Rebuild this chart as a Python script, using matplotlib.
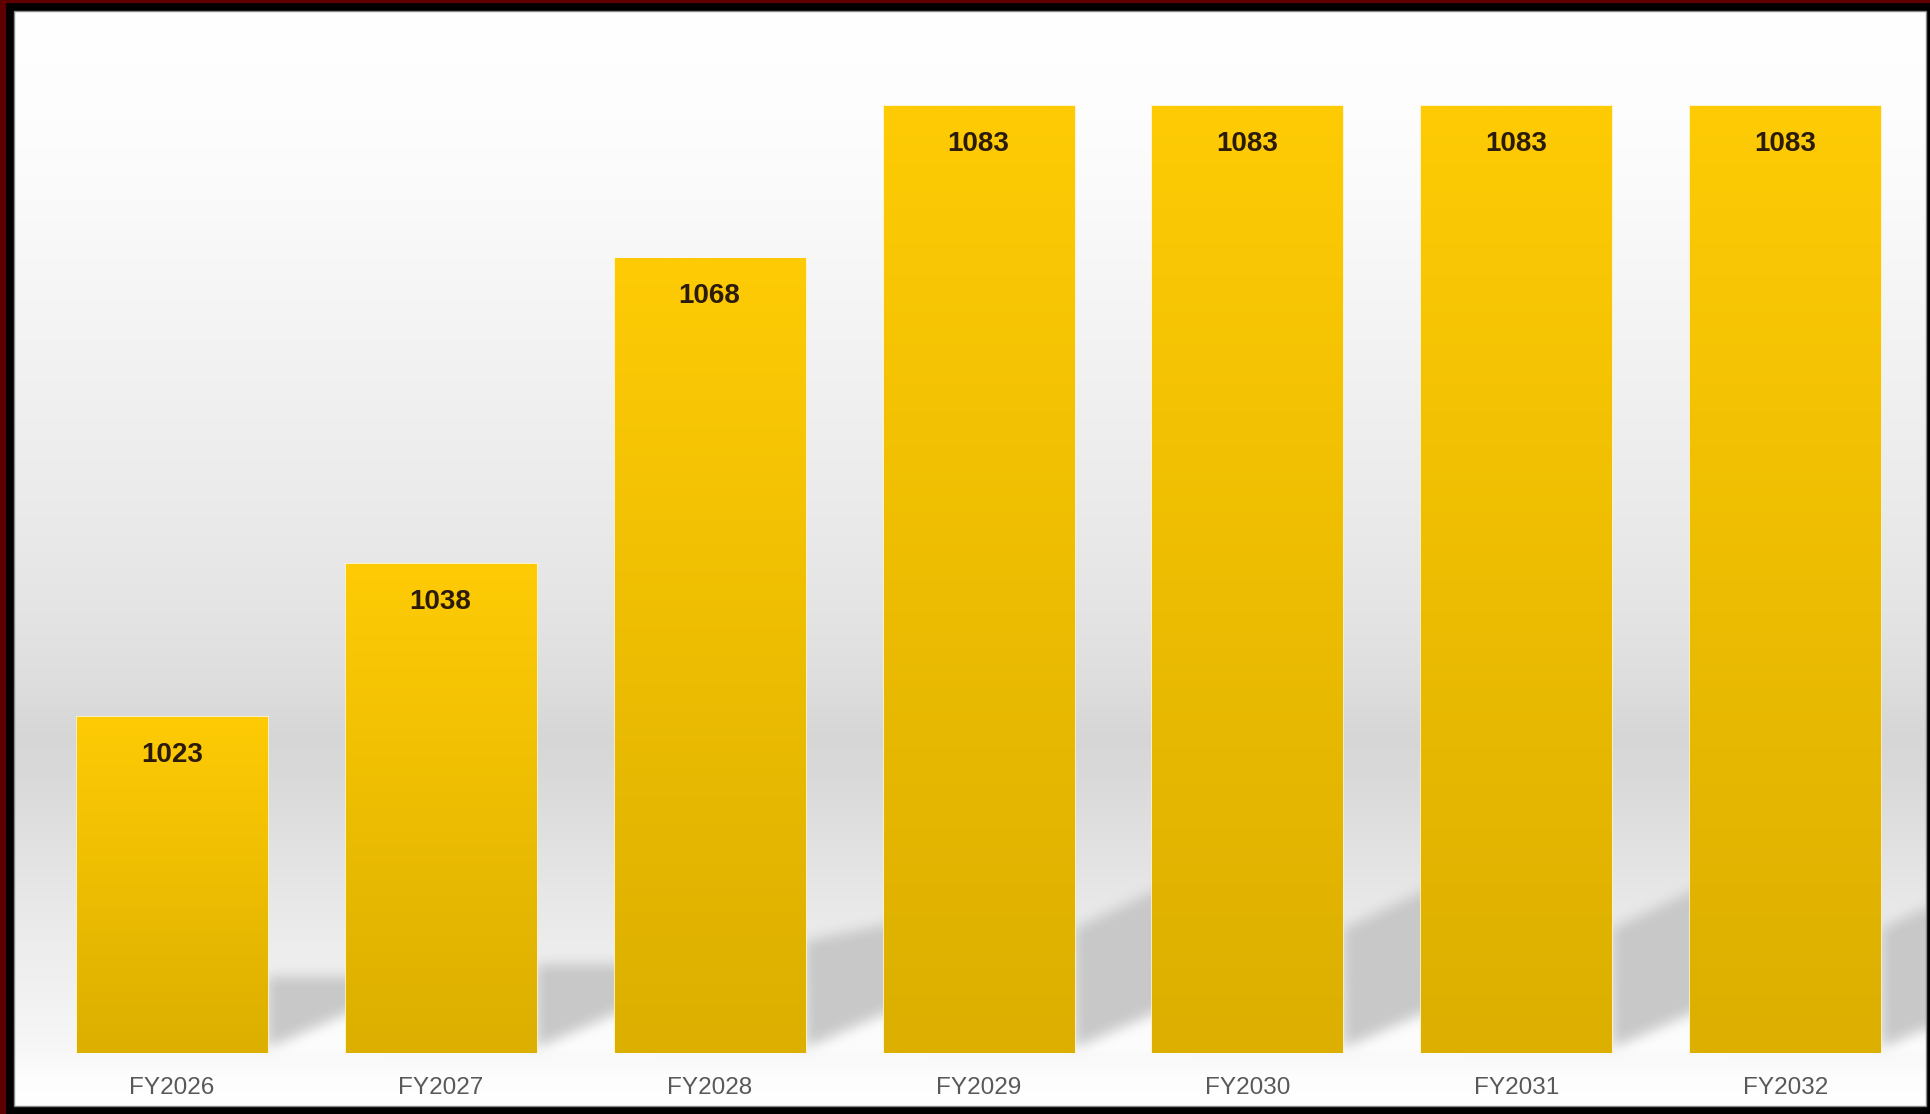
import numpy as np
import matplotlib
matplotlib.use("Agg")
import matplotlib.pyplot as plt
from matplotlib.patches import Rectangle

# === Data ===
years = ["FY2026", "FY2027", "FY2028", "FY2029", "FY2030", "FY2031", "FY2032"]
values = [1023, 1038, 1068, 1083, 1083, 1083, 1083]
BASE = 990

# === Figure geometry (pixels) ===
W, H = 1931, 1114
X0, Y0, X1, Y1 = 14, 11, 1926, 1106   # inner white panel
BASE_PX = 1053                        # bar base row
PX_PER_UNIT = 10.18
BAR_W = 0.7066

fig = plt.figure(figsize=(W / 100, H / 100), dpi=100, facecolor="black")

# frame details
fig.patches.append(Rectangle((0, 0), 5 / W, 1, transform=fig.transFigure,
                             color="#5e0000", zorder=0))
fig.patches.append(Rectangle((0, 1 - 2 / H), 1, 2 / H, transform=fig.transFigure,
                             color="#5e0000", zorder=0))

ax_bg = fig.add_axes([X0 / W, 1 - Y1 / H, (X1 - X0) / W, (Y1 - Y0) / H])
ax_bg.axis("off")

ax = fig.add_axes([X0 / W, 1 - BASE_PX / H, (X1 - X0) / W, (BASE_PX - Y0) / H])
ax.patch.set_visible(False)
ax.set_xlim(-0.5865, 6.523)
ax.set_ylim(BASE, BASE + (BASE_PX - Y0) / PX_PER_UNIT)

# === Background gradient ===
Wp, Hp = X1 - X0, Y1 - Y0
stops_y = np.array([11, 120, 200, 300, 400, 500, 600, 680, 738, 790, 900, 1000, 1053, 1075, 1106]) - Y0
stops_v = np.array([255, 253, 250, 245, 240, 235, 229, 222, 214, 219, 232, 242, 248, 253, 255]) / 255
col_v = np.interp(np.arange(Hp), stops_y, stops_v)
bg = np.repeat(col_v[:, None], Wp, axis=1)

# === Bar shadows (computed from bar positions) ===
rows = np.arange(Hp)[:, None].astype(float)
cols = np.arange(Wp)[None, :].astype(float)
mask = np.zeros((Hp, Wp))
light = np.zeros((Hp, Wp))
for i, v in enumerate(values):
    xd, yd = ax.transData.transform((i + BAR_W / 2, BASE))
    _, ytop = ax.transData.transform((i, v))
    hpx = ytop - yd
    c0 = xd - X0
    r0 = (H - yd) - Y0
    f = np.clip((hpx - 334) / 612, 0, 1)
    d_top = 77 + 48 * f
    slope = 0.47 * f ** 3
    t = cols - c0
    bottom = r0 - 6 - 0.44 * t
    top = r0 - d_top - slope * t
    fade = np.clip((180 - t) / 80, 0, 1)
    m = ((rows <= bottom) & (rows >= top) & (t >= 0)) * fade
    mask = np.maximum(mask, m)
    lt = ((rows > bottom) & (rows <= r0) & (t >= 0) & (t <= 120)) * 1.0
    light = np.maximum(light, lt)


def box_blur(a, r):
    k = 2 * r + 1
    p = np.pad(a, r, mode="edge")
    c = np.cumsum(p, axis=0)
    c = np.vstack([np.zeros((1, c.shape[1])), c])
    a = (c[k:] - c[:-k]) / k
    c = np.cumsum(a, axis=1)
    c = np.hstack([np.zeros((c.shape[0], 1)), c])
    return (c[:, k:] - c[:, :-k]) / k


mask = box_blur(box_blur(mask, 7), 7)[:Hp, :Wp]
light = box_blur(light, 5)[:Hp, :Wp]
img = bg + (1 - bg) * 0.7 * light * (1 - mask)
img = img * (1 - mask) + (200 / 255) * mask
ax_bg.imshow(np.dstack([img] * 3), aspect="auto", interpolation="bilinear",
             extent=[0, 1, 0, 1])
ax_bg.set_xlim(0, 1)
ax_bg.set_ylim(0, 1)
fig.patches.append(Rectangle((X0 / W, 1 - Y1 / H), (X1 - X0) / W, (Y1 - Y0) / H,
                             transform=fig.transFigure, fill=False,
                             edgecolor="#8a8a8a", linewidth=1, zorder=5))

# === Bars ===
x = np.arange(len(years))
heights = [v - BASE for v in values]
ax.bar(x, heights, bottom=BASE, width=BAR_W, color="none",
       edgecolor="#fff4c0", alpha=0.8, linewidth=2.2, zorder=3)

top_c = np.array([0xfe, 0xcb, 0x05]) / 255
bot_c = np.array([0xdc, 0xaf, 0x00]) / 255
tt = np.linspace(0, 1, 256)[:, None, None]
grad = top_c * (1 - tt) + bot_c * tt
for xi, v in zip(x, values):
    ax.imshow(grad, extent=[xi - BAR_W / 2, xi + BAR_W / 2, BASE, v],
              aspect="auto", interpolation="bilinear", zorder=4)
    ax.annotate(str(v), (xi, v), xytext=(0, -27), textcoords="offset points",
                ha="center", va="center", fontsize=20, fontweight="bold",
                family="Liberation Sans", color="#2b1b0b", zorder=6)

ax.set_xlim(-0.5865, 6.523)
ax.set_ylim(BASE, BASE + (BASE_PX - Y0) / PX_PER_UNIT)
ax.set_xticks(x)
ax.set_xticklabels(years, fontsize=17.5, family="Liberation Sans", color="#595959")
ax.tick_params(axis="x", length=0, pad=17)
ax.set_yticks([])
for s in ax.spines.values():
    s.set_visible(False)

fig.savefig("out.png", dpi=100, facecolor=fig.get_facecolor())
